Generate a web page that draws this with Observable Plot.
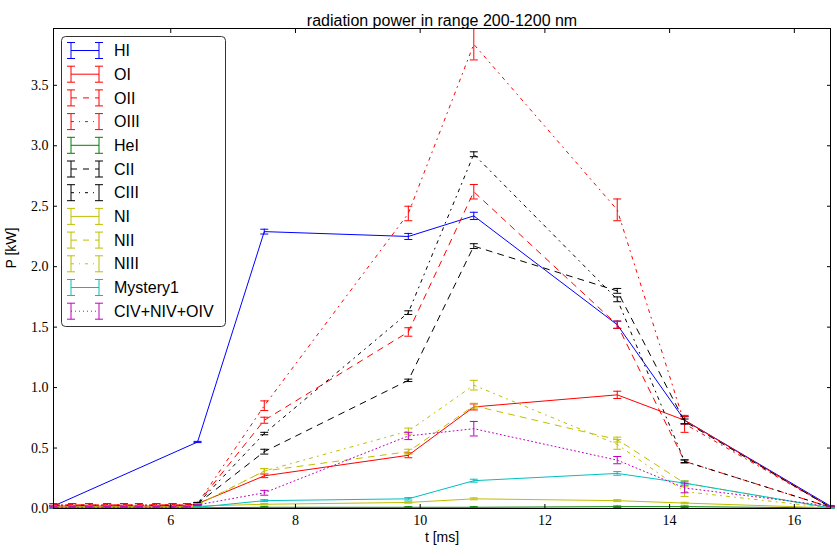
<!DOCTYPE html>
<html><head><meta charset="utf-8">
<script src="https://cdn.jsdelivr.net/npm/d3@7"></script>
<script src="https://cdn.jsdelivr.net/npm/@observablehq/plot@0.6"></script>
<style>
body{margin:0;background:#fff}
#chart{position:relative;width:837px;height:556px}
</style>
</head><body><div id="chart"></div>
<script>
// ---- data ----
const tHI  = [4.12, 6.43, 7.50, 9.81, 10.86, 13.16, 14.24, 16.58];
const tAll = [4.12, 4.42, 4.69, 4.98, 5.25, 5.49, 5.77, 6.03, 6.26, 6.43, 7.50, 9.81, 10.86, 13.16, 14.24, 16.58];

const seriesNames = ["HI","OI","OII","OIII","HeI","CII","CIII","NI","NII","NIII","Mystery1","CIV+NIV+OIV"];

const vHI   = [0.02, 0.55, 2.29, 2.25, 2.42, 1.52, 0.73, 0.02];
const eHI   = [0.005, 0.005, 0.02, 0.025, 0.03, 0.03, 0.03, 0.005];

const vOI   = [0.02,0.02,0.02,0.02,0.02,0.02,0.02,0.02,0.02, 0.04, 0.27, 0.44, 0.84, 0.94, 0.73, 0.01];
const eOI   = [0.005,0.005,0.005,0.005,0.005,0.005,0.005,0.005,0.005, 0.01, 0.015, 0.02, 0.025, 0.03, 0.03, 0.005];

const vOII  = [0.03,0.03,0.03,0.03,0.03,0.03,0.03,0.03,0.03, 0.04, 0.73, 1.46, 2.62, 1.52, 0.39, 0.01];
const eOII  = [0.01,0.01,0.01,0.01,0.01,0.01,0.01,0.01,0.01, 0.01, 0.025, 0.035, 0.06, 0.03, 0.015, 0.005];

const vOIII = [0.03,0.03,0.03,0.03,0.03,0.03,0.03,0.03,0.03, 0.04, 0.85, 2.44, 3.84, 2.47, 0.70, 0.01];
const eOIII = [0.01,0.01,0.01,0.01,0.01,0.01,0.01,0.01,0.01, 0.01, 0.04, 0.06, 0.13, 0.09, 0.07, 0.005];

const vHeI  = [0.005,0.005,0.005,0.005,0.005,0.005,0.005,0.005,0.005, 0.005, 0.01, 0.01, 0.01, 0.015, 0.015, 0.005];
const eHeI  = [0.004,0.004,0.004,0.004,0.004,0.004,0.004,0.004,0.004, 0.004, 0.005, 0.005, 0.005, 0.006, 0.006, 0.003];

const vCII  = [0.02,0.02,0.02,0.02,0.02,0.02,0.02,0.02,0.02, 0.04, 0.47, 1.06, 2.17, 1.80, 0.72, 0.01];
const eCII  = [0.005,0.005,0.005,0.005,0.005,0.005,0.005,0.005,0.005, 0.01, 0.02, 0.01, 0.02, 0.02, 0.02, 0.005];

const vCIII = [0.02,0.02,0.02,0.02,0.02,0.02,0.02,0.02,0.02, 0.04, 0.62, 1.62, 2.93, 1.73, 0.39, 0.01];
const eCIII = [0.005,0.005,0.005,0.005,0.005,0.005,0.005,0.005,0.005, 0.01, 0.01, 0.015, 0.02, 0.02, 0.01, 0.005];

const vNI   = [0.01,0.01,0.01,0.01,0.01,0.01,0.01,0.01,0.01, 0.02, 0.035, 0.05, 0.08, 0.065, 0.045, 0.005];
const eNI   = [0.004,0.004,0.004,0.004,0.004,0.004,0.004,0.004,0.004, 0.005, 0.006, 0.006, 0.008, 0.008, 0.006, 0.003];

const vNII  = [0.015,0.015,0.015,0.015,0.015,0.015,0.015,0.015,0.015, 0.03, 0.31, 0.47, 0.85, 0.57, 0.21, 0.005];
const eNII  = [0.005,0.005,0.005,0.005,0.005,0.005,0.005,0.005,0.005, 0.01, 0.02, 0.02, 0.02, 0.02, 0.02, 0.005];

const vNIII = [0.015,0.015,0.015,0.015,0.015,0.015,0.015,0.015,0.015, 0.03, 0.31, 0.64, 1.02, 0.53, 0.14, 0.005];
const eNIII = [0.005,0.005,0.005,0.005,0.005,0.005,0.005,0.005,0.005, 0.01, 0.02, 0.025, 0.04, 0.04, 0.04, 0.005];

const vMys  = [0.005,0.005,0.005,0.005,0.005,0.005,0.005,0.005,0.005, 0.01, 0.065, 0.08, 0.23, 0.29, 0.21, 0.005];
const eMys  = [0.004,0.004,0.004,0.004,0.004,0.004,0.004,0.004,0.004, 0.005, 0.008, 0.01, 0.012, 0.015, 0.015, 0.004];

const vCIV  = [0.01,0.01,0.01,0.01,0.01,0.01,0.01,0.01,0.01, 0.03, 0.13, 0.60, 0.66, 0.40, 0.17, 0.02];
const eCIV  = [0.005,0.005,0.005,0.005,0.005,0.005,0.005,0.005,0.005, 0.005, 0.02, 0.03, 0.06, 0.03, 0.04, 0.005];

const xTicks = [6, 8, 10, 12, 14, 16];
const yTicks = [0.0, 0.5, 1.0, 1.5, 2.0, 2.5, 3.0, 3.5];
const xDomain = [4.12, 16.58];
const yDomain = [0, 3.97];

// styles (matplotlib classic)
const colors = ["#0000ff","#ff0000","#ff0000","#ff0000","#008000","#000000","#000000","#bfbf00","#bfbf00","#bfbf00","#00bfbf","#bf00bf"];
const dashes = [null, null, "6,6", "3,5,1,5", null, "6,6", "3,5,1,5", null, "6,6", "3,5,1,5", null, "1,3"];

const times = [tHI, tAll, tAll, tAll, tAll, tAll, tAll, tAll, tAll, tAll, tAll, tAll];
const vals  = [vHI, vOI, vOII, vOIII, vHeI, vCII, vCIII, vNI, vNII, vNIII, vMys, vCIV];
const errs  = [eHI, eOI, eOII, eOIII, eHeI, eCII, eCIII, eNI, eNII, eNIII, eMys, eCIV];

const series = seriesNames.map((name, i) => ({
  name, color: colors[i], dash: dashes[i],
  rows: times[i].map((t, j) => ({t, v: vals[i][j], e: errs[i][j]}))
}));

const capSymbol = {draw(ctx) { ctx.moveTo(-4, 0); ctx.lineTo(4, 0); }};

const marks = [];
for (const s of series) {
  marks.push(Plot.line(s.rows, {x: "t", y: "v", stroke: s.color, strokeWidth: 1, strokeDasharray: s.dash}));
  marks.push(Plot.ruleX(s.rows, {x: "t", y1: d => d.v - d.e, y2: d => d.v + d.e, stroke: s.color, strokeWidth: 1}));
  marks.push(Plot.dot(s.rows, {x: "t", y: d => d.v - d.e, symbol: capSymbol, stroke: s.color, fill: "none", strokeWidth: 1, r: 4}));
  marks.push(Plot.dot(s.rows, {x: "t", y: d => d.v + d.e, symbol: capSymbol, stroke: s.color, fill: "none", strokeWidth: 1, r: 4}));
}

marks.push(
  Plot.frame({stroke: "black", strokeWidth: 1}),
  Plot.axisX({anchor: "bottom", ticks: xTicks, tickSize: -4, tickPadding: 11, tickFormat: d => String(d), label: null, ariaLabel: "xticklabels"}),
  Plot.axisX({anchor: "top", ticks: xTicks, tickSize: -4, tickFormat: () => "", label: null}),
  Plot.axisY({anchor: "left", ticks: yTicks, tickSize: -4, tickPadding: 9, tickFormat: d => d.toFixed(1), label: null, ariaLabel: "yticklabels"}),
  Plot.axisY({anchor: "right", ticks: yTicks, tickSize: -4, tickFormat: () => "", label: null}),
  Plot.text(["radiation power in range 200-1200 nm"], {frameAnchor: "top", dy: -14, fontSize: 16, fontFamily: "Liberation Sans", fill: "black"}),
  Plot.text(["t [ms]"], {frameAnchor: "bottom", dy: 33, fontSize: 14, fontFamily: "Liberation Sans Narrow, Liberation Sans", fill: "black"}),
  Plot.text(["P [kW]"], {frameAnchor: "left", dx: -42, rotate: -90, fontSize: 14, fontFamily: "Liberation Sans", fill: "black"})
);

const svg = Plot.plot({
  width: 837, height: 556,
  marginLeft: 53, marginRight: 7, marginTop: 28, marginBottom: 48,
  x: {domain: xDomain, type: "linear"},
  y: {domain: yDomain, type: "linear"},
  style: {background: "white", color: "black", overflow: "visible"},
  marks
});

// serif tick labels (matplotlib mathtext look): restyle any numeric-only axis texts
d3.select(svg).selectAll("text").each(function() {
  const t = this.textContent;
  if (/^\d+(\.\d)?$/.test(t)) {
    d3.select(this).style("font-family", "'Liberation Serif', 'DejaVu Serif', serif").style("font-size", "14px");
    d3.select(this.parentNode).style("font-family", "'Liberation Serif', 'DejaVu Serif', serif").style("font-size", "14px");
  }
});

// legend (matplotlib-style, inside axes upper-left)
const lg = d3.select(svg).append("g").attr("font-family", "Liberation Sans").attr("font-size", 16).attr("text-anchor", "start");
lg.append("rect").attr("x", 61.5).attr("y", 36.5).attr("width", 164).attr("height", 290)
  .attr("rx", 4).attr("fill", "white").attr("stroke", "#333").attr("stroke-width", 1);
series.forEach((s, i) => {
  const y = 50.5 + i * 23.7;
  const x0 = 71, x1 = 99;
  const g = lg.append("g").attr("stroke", s.color).attr("stroke-width", 1).attr("fill", "none");
  g.append("line").attr("x1", x0).attr("x2", x1).attr("y1", y).attr("y2", y).attr("stroke-dasharray", s.dash);
  for (const xx of [x0, x1]) {
    g.append("line").attr("x1", xx).attr("x2", xx).attr("y1", y - 8).attr("y2", y + 8);
    g.append("line").attr("x1", xx - 4).attr("x2", xx + 4).attr("y1", y - 8).attr("y2", y - 8);
    g.append("line").attr("x1", xx - 4).attr("x2", xx + 4).attr("y1", y + 8).attr("y2", y + 8);
  }
  lg.append("text").attr("x", 114).attr("y", y).attr("dy", "0.35em").attr("fill", "black").attr("text-anchor", "start").text(s.name);
});

document.getElementById("chart").appendChild(svg);
</script>
</body></html>
